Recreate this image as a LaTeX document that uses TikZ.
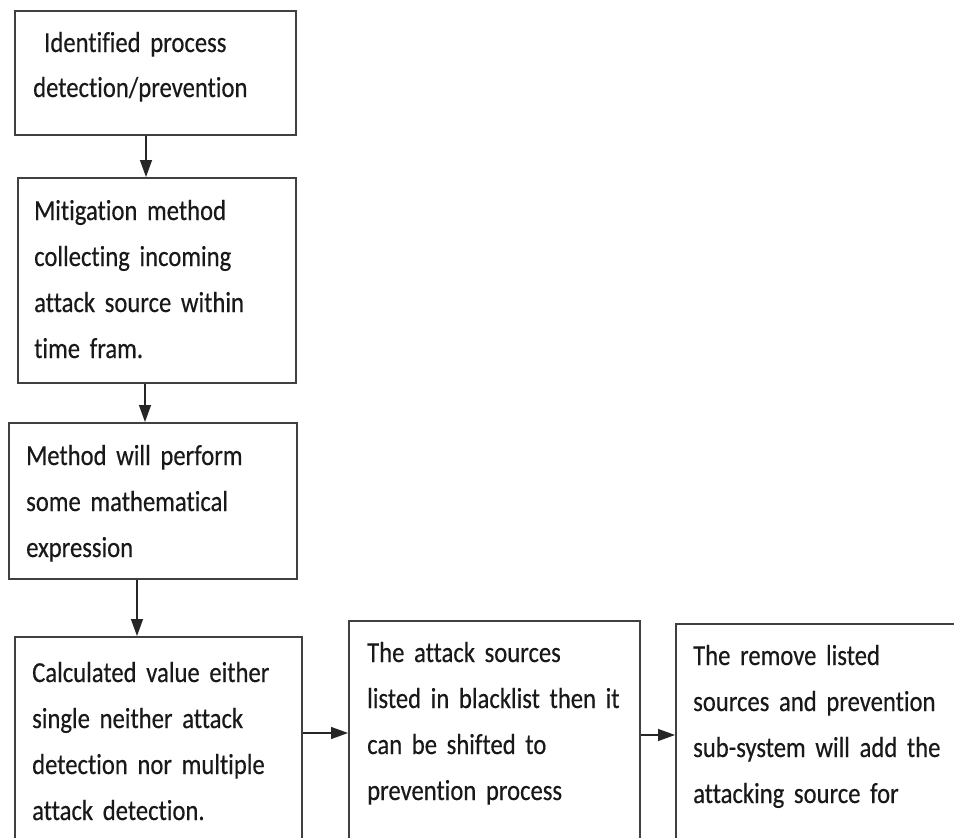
\documentclass[tikz,border=0pt]{standalone}
\usepackage{fontspec}
\setmainfont[FakeStretch=0.85,FakeBold=0.4,Ligatures={NoCommon}]{Carlito}
\usetikzlibrary{arrows.meta}
\tikzset{
  box/.style={draw=black!75, line width=1.5pt, rectangle, inner sep=0pt},
  txt/.style={anchor=base west, inner sep=0pt, text width=300pt, align=left,
    font=\fontsize{29pt}{46pt}\selectfont, text=black!90},
  arr/.style={draw=black!85, line width=1.4pt, -{Triangle[length=17pt,width=12pt]}}
}
\begin{document}
\begin{tikzpicture}[x=1pt,y=-1pt]
\useasboundingbox (0,0) rectangle (954,838);
\clip (0,0) rectangle (954,838);
% boxes
\node[box, minimum width=281pt, minimum height=124pt, anchor=north west] (b1) at (14,10) {};
\node[box, minimum width=278pt, minimum height=205pt, anchor=north west] (b2) at (17,177) {};
\node[box, minimum width=288pt, minimum height=156pt, anchor=north west] (b3) at (8,422) {};
\node[box, minimum width=287pt, minimum height=230pt, anchor=north west] (b4) at (14,636) {};
\node[box, minimum width=291pt, minimum height=240pt, anchor=north west] (b5) at (348,620) {};
\node[box, minimum width=320pt, minimum height=240pt, anchor=north west] (b6) at (675,623) {};
% texts
\node[txt] (t1) at (44,52) {Identified process};
\node[txt] (t1b) at (33,97) {detection/prevention};
\node[txt] (t2) at (34,220) {Mitigation method\\collecting incoming\\attack source within\\time fram.};
\node[txt] (t3) at (26,465) {Method will perform\\some mathematical\\expression};
\node[txt] (t4) at (32,682) {Calculated value either\\single neither attack\\detection nor multiple\\attack detection.};
\node[txt] (t5) at (367,662) {The attack sources\\listed in blacklist then it\\can be shifted to\\prevention process};
\node[txt] (t6) at (693,665) {The remove listed\\sources and prevention\\sub-system will add the\\attacking source for};
% connectors
\draw[arr] (b1.south -| 146,0) -- (b2.north -| 146,0);
\draw[arr] (b2.south -| 145,0) -- (b3.north -| 145,0);
\draw[arr] (b3.south -| 137,0) -- (b4.north -| 137,0);
\draw[arr] (b4.east |- 0,733) -- (b5.west |- 0,733);
\draw[arr] (b5.east |- 0,735) -- (b6.west |- 0,735);
\end{tikzpicture}
\end{document}
